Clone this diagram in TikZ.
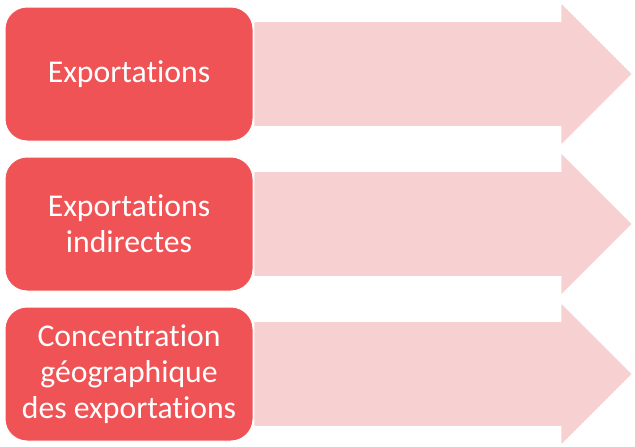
\documentclass[tikz,border=0pt]{standalone}
\usepackage{fontspec}
\setmainfont{Carlito}[Ligatures=NoCommon]
\definecolor{boxred}{RGB}{239,83,85}
\definecolor{arrowpink}{RGB}{247,209,210}
\begin{document}
\begin{tikzpicture}[x=1pt,y=-1pt,
  redbox/.style={draw=white,line width=1pt,fill=boxred,rounded corners=22pt,
    minimum width=248pt,minimum height=134pt,text=white,align=center,inner sep=0pt,
    font=\fontsize{31.7pt}{36pt}\selectfont},
  pinkarrow/.style={fill=arrowpink,draw=white,line width=0.6pt}]
\useasboundingbox (0,0) rectangle (635,447);
\foreach \i/\cy in {1/74,2/224,3/374}{
  \path[pinkarrow] (254,\cy-52.5) -- (561,\cy-52.5) -- (561,\cy-71) -- (632,\cy) -- (561,\cy+71) -- (561,\cy+52.5) -- (254,\cy+52.5) -- cycle;
}
\node[redbox] (b1) at (129,74) {Exportations};
\node[redbox] (b2) at (129,224) {Exportations\\indirectes};
\node[redbox] (b3) at (129,374) {Concentration\\géographique\\des exportations};
\end{tikzpicture}
\end{document}
